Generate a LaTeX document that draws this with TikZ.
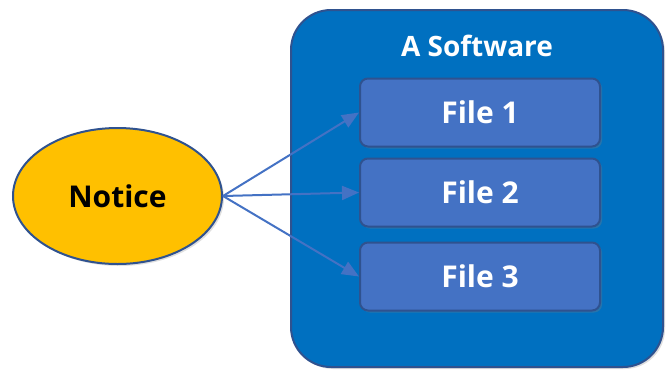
\documentclass[tikz,border=0pt]{standalone}
\usepackage{fontspec}
\setmainfont{Open Sans}
\usetikzlibrary{positioning, shapes.geometric, shadows, arrows.meta}

\definecolor{swblue}{HTML}{0070C0}
\definecolor{fileblue}{HTML}{4472C4}
\definecolor{edgeblue}{HTML}{2F528F}
\definecolor{noticegold}{HTML}{FFC000}

\begin{document}
\begin{tikzpicture}[x=1pt, y=-1pt, node distance=80pt, on grid,
  soft/.style={draw=edgeblue, fill=swblue, line width=2pt, rounded corners=40pt,
    minimum width=372pt, minimum height=357pt,
    drop shadow={shadow xshift=2pt, shadow yshift=-2pt, opacity=0.25}},
  file/.style={draw=edgeblue, fill=fileblue, line width=2pt, rounded corners=8pt,
    minimum width=240pt, minimum height=68pt, text=white,
    font=\bfseries\fontsize{30}{36}\selectfont,
    drop shadow={shadow xshift=2pt, shadow yshift=-2pt, opacity=0.3}},
  notice/.style={ellipse, draw=edgeblue, fill=noticegold, line width=2pt, inner sep=0pt,
    minimum width=209pt, minimum height=136pt,
    font=\bfseries\fontsize{30}{36}\selectfont,
    drop shadow={shadow xshift=2pt, shadow yshift=-2pt, opacity=0.25}},
  link/.style={draw=fileblue, line width=2pt, -{Triangle[length=17pt, width=14pt]}}]
  \useasboundingbox (0,0) rectangle (672,376);

  \node[soft] (sw) at (477,188.5) {};
  \node[text=white, font=\bfseries\fontsize{28}{34}\selectfont] (title) at (477,46) {A Software};

  \node[file] (f1) at (480,112.5) {File 1};
  \node[file] (f2) [below=of f1] {File 2};
  \node[file] (f3) [below=84pt of f2] {File 3};

  \node[notice] (notice) at (117.5,196) {Notice};

  \path
  (notice.east) edge [link] (f1.west)
  (notice.east) edge [link] (f2.west)
  (notice.east) edge [link] (f3.west);
\end{tikzpicture}
\end{document}
